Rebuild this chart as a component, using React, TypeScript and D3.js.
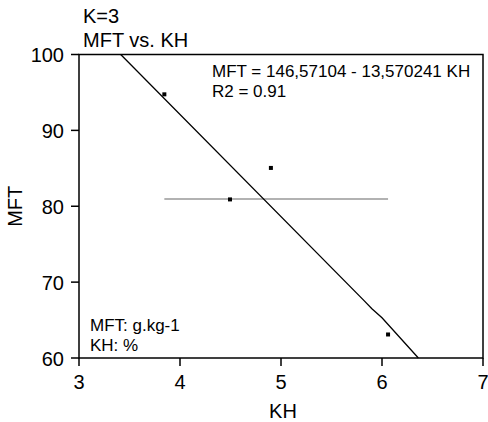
import React from "react";
import * as d3 from "d3";

const kh = [3.845, 4.495, 4.9, 6.06];
const mft = [94.75, 80.9, 85.05, 63.1];
const fitKH = [3.413, 5.82, 5.9, 6.0, 6.36];
const fitMFT = [100, 67.6, 66.5, 65.3, 60];
const meanMFT = 80.95;
const xTicks = [3, 4, 5, 6, 7];
const yTicks = [60, 70, 80, 90, 100];
const titleLines = ["K=3", "MFT vs. KH"];
const eqLines = ["MFT = 146,57104 - 13,570241 KH", "R2 = 0.91"];
const unitLines = ["MFT: g.kg-1", "KH: %"];

export default function App() {
  const W = 488, H = 422;
  const x = d3.scaleLinear().domain([3, 7]).range([79, 483]);
  const y = d3.scaleLinear().domain([60, 100]).range([358, 54.5]);
  const font = "'Liberation Sans', Arial, sans-serif";
  const line = d3.line<number>().x((d) => x(fitKH[d])).y((d) => y(fitMFT[d]));
  const xMin = d3.min(kh)!, xMax = d3.max(kh)!;
  return (
    <svg width={W} height={H} style={{ position: "absolute", left: 0, top: 0 }} fontFamily={font}>
      <rect width={W} height={H} fill="#fff" />
      {titleLines.map((t, i) => (
        <text key={t} x={83} y={23 + i * 24} fontSize={20}>{t}</text>
      ))}
      <line x1={x(xMin)} x2={x(xMax)} y1={y(meanMFT)} y2={y(meanMFT)} stroke="#999" strokeWidth={1.5} />
      <path d={line(fitKH.map((_, i) => i))!} fill="none" stroke="#000" strokeWidth={1.3} />
      {kh.map((v, i) => (
        <rect key={i} x={x(v) - 2} y={y(mft[i]) - 2} width={4} height={4} fill="#000" />
      ))}
      <rect x={79} y={54.5} width={404} height={303.5} fill="none" stroke="#000" strokeWidth={1.5} />
      {xTicks.map((t) => (
        <g key={t}>
          <line x1={x(t)} x2={x(t)} y1={358} y2={366} stroke="#000" strokeWidth={1.5} />
          <text x={x(t)} y={389} fontSize={20} textAnchor="middle">{t}</text>
        </g>
      ))}
      {yTicks.map((t) => (
        <g key={t}>
          <line x1={71} x2={79} y1={y(t)} y2={y(t)} stroke="#000" strokeWidth={1.5} />
          <text x={64} y={y(t) + 7.5} fontSize={20} textAnchor="end">{t}</text>
        </g>
      ))}
      <text x={283} y={418} fontSize={20} textAnchor="middle">KH</text>
      <text transform={`translate(22,${y(80)}) rotate(-90)`} fontSize={20} textAnchor="middle">MFT</text>
      {eqLines.map((t, i) => (
        <text key={t} x={212} y={77 + i * 20} fontSize={17}>{t}</text>
      ))}
      {unitLines.map((t, i) => (
        <text key={t} x={90} y={331 + i * 20} fontSize={17}>{t}</text>
      ))}
    </svg>
  );
}
